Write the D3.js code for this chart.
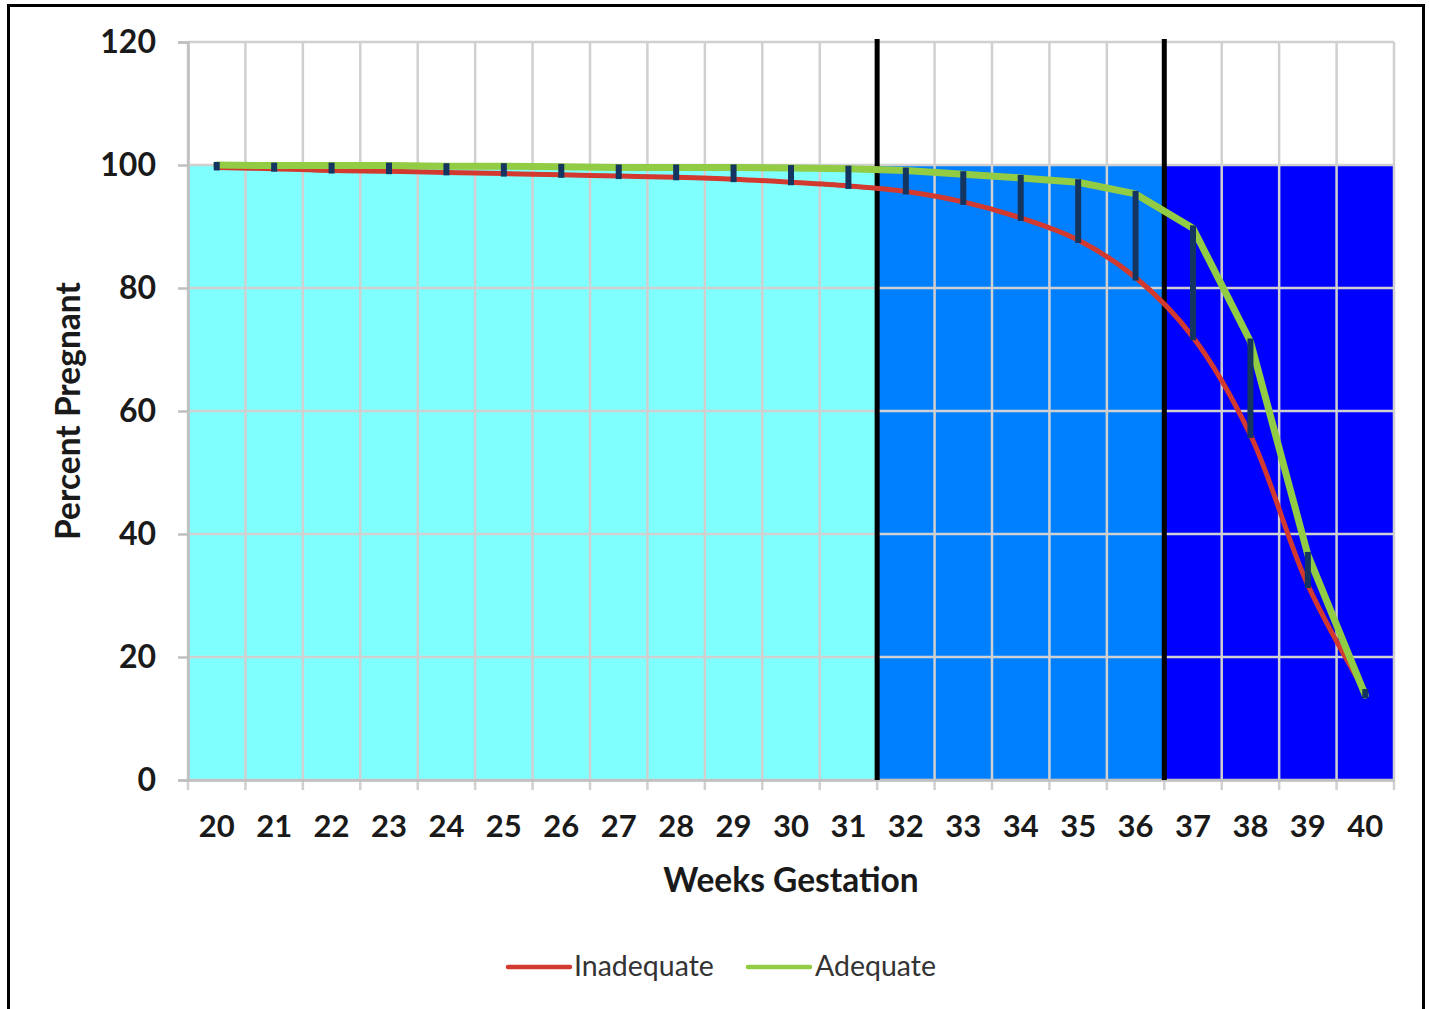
<!DOCTYPE html>
<html>
<head>
<meta charset="utf-8">
<script src="https://cdn.jsdelivr.net/npm/d3@7"></script>
<style>
  html, body { margin: 0; padding: 0; background: #ffffff; }
  svg { display: block; }
  text { font-family: Lato, "Open Sans", sans-serif; }
</style>
</head>
<body>
<svg id="chart" width="1429" height="1009"></svg>
<script>
// Gestational week categories
const weeks = [20, 21, 22, 23, 24, 25, 26, 27, 28, 29, 30, 31, 32, 33, 34, 35, 36, 37, 38, 39, 40];

// Percent still pregnant at each week, by prenatal care adequacy
const inadequate = [99.6, 99.4, 99.1, 99.0, 98.8, 98.6, 98.4, 98.2, 98.0, 97.7, 97.2, 96.6, 95.7, 94.0, 91.4, 87.8, 81.7, 72.0, 56.1, 31.7, 14.3];
const adequate   = [100.0, 99.9, 99.9, 99.9, 99.8, 99.8, 99.7, 99.6, 99.6, 99.6, 99.5, 99.4, 99.1, 98.5, 97.9, 97.2, 95.3, 89.7, 71.3, 36.6, 13.8];

// Background stages: last week of each stage, and stage column height
const stageLastWeek = [31, 36, 40];
const stageHeight = 100;

// Axis ticks
const yTicks = [0, 20, 40, 60, 80, 100, 120];

const seriesNames = ["Inadequate", "Adequate"];

// ---- styling ----
const stageColors = ["#80FFFF", "#0080FF", "#0000FF"];
const lineColors = { Inadequate: "#D2392F", Adequate: "#92CC44" };

const svg = d3.select("#chart");

const x = d3.scaleBand().domain(weeks).range([188, 1394]).paddingInner(0).paddingOuter(0);
const y = d3.scaleLinear().domain([0, 120]).range([780, 42]);
const cx = w => x(w) + x.bandwidth() / 2;

// Outer frame
svg.append("path")
  .attr("d", "M8.5,1012 L8.5,5.5 L1423.5,5.5 L1423.5,1012")
  .attr("fill", "none")
  .attr("stroke", "#000")
  .attr("stroke-width", 3);

// Stage background columns
const stageIndex = w => stageLastWeek.findIndex(last => w <= last);
svg.append("g")
  .selectAll("rect")
  .data(weeks)
  .join("rect")
  .attr("x", d => x(d) - 0.5)
  .attr("width", x.bandwidth() + 1)
  .attr("y", y(stageHeight))
  .attr("height", y(0) - y(stageHeight))
  .attr("fill", d => stageColors[stageIndex(d)]);

// Gridlines
const grid = svg.append("g").attr("class", "grid");
const edges = weeks.map(w => x(w)).concat([x.range()[1]]);
grid.selectAll("line.v")
  .data(edges)
  .join("line")
  .attr("class", "v")
  .attr("x1", d => d).attr("x2", d => d)
  .attr("y1", y(120)).attr("y2", y(0) + 10)
  .attr("stroke", "#D0D0D0")
  .attr("stroke-width", 2.5);
grid.selectAll("line.h")
  .data(yTicks)
  .join("line")
  .attr("class", "h")
  .attr("x1", x.range()[0]).attr("x2", x.range()[1])
  .attr("y1", d => y(d)).attr("y2", d => y(d))
  .attr("stroke", "#D0D0D0")
  .attr("stroke-width", 2.5);

// Y axis
const yAxis = svg.append("g")
  .attr("transform", `translate(${x.range()[0]},0)`)
  .call(d3.axisLeft(y).tickValues(yTicks).tickSize(10).tickPadding(22));
yAxis.select(".domain").attr("stroke", "#BFBFBF").attr("stroke-width", 2.5);
yAxis.selectAll(".tick line").attr("stroke", "#BFBFBF").attr("stroke-width", 2.5);
yAxis.selectAll(".tick text")
  .attr("fill", "#1a1a1a")
  .attr("font-family", "Lato, sans-serif")
  .attr("font-weight", 700)
  .attr("font-size", 32);

// X axis (labels centred in each week, ticks on the week boundaries drawn above)
const xAxis = svg.append("g")
  .attr("transform", `translate(0,${y(0)})`)
  .call(d3.axisBottom(x).tickSize(0).tickPadding(35));
xAxis.select(".domain").attr("stroke", "#BFBFBF").attr("stroke-width", 2.5);
xAxis.selectAll(".tick text")
  .attr("fill", "#1a1a1a")
  .attr("font-family", "Lato, sans-serif")
  .attr("font-weight", 700)
  .attr("font-size", 31);

// Axis titles
svg.append("text")
  .attr("x", (x.range()[0] + x.range()[1]) / 2)
  .attr("y", 892)
  .attr("text-anchor", "middle")
  .attr("font-weight", 700)
  .attr("font-size", 33.5)
  .attr("fill", "#1a1a1a")
  .text("Weeks Gestation");

svg.append("text")
  .attr("transform", "translate(80,411) rotate(-90)")
  .attr("text-anchor", "middle")
  .attr("font-weight", 700)
  .attr("font-size", 33.5)
  .attr("fill", "#1a1a1a")
  .text("Percent Pregnant");

// Stage boundary markers
const boundaries = stageLastWeek.slice(0, -1).map(w => x(w) + x.bandwidth());
svg.append("g")
  .selectAll("line")
  .data(boundaries)
  .join("line")
  .attr("x1", d => d).attr("x2", d => d)
  .attr("y1", y(120) - 3).attr("y2", y(0))
  .attr("stroke", "#000")
  .attr("stroke-width", 5);

// Series lines
const series = [
  { name: "Inadequate", values: inadequate, curve: d3.curveCatmullRom.alpha(0.5), width: 5 },
  { name: "Adequate", values: adequate, curve: d3.curveLinear, width: 7 }
];
series.forEach(s => {
  const line = d3.line()
    .x((d, i) => cx(weeks[i]))
    .y(d => y(d))
    .curve(s.curve);
  svg.append("path")
    .datum(s.values)
    .attr("d", line)
    .attr("fill", "none")
    .attr("stroke", lineColors[s.name])
    .attr("stroke-width", s.width)
    .attr("stroke-linejoin", "round")
    .attr("stroke-linecap", "round");
});

// High-low bars between the two series
svg.append("g")
  .selectAll("line")
  .data(weeks)
  .join("line")
  .attr("x1", d => cx(d)).attr("x2", d => cx(d))
  .attr("y1", (d, i) => y(Math.max(adequate[i], inadequate[i])))
  .attr("y2", (d, i) => y(Math.min(adequate[i], inadequate[i])))
  .attr("stroke", "#133560")
  .attr("stroke-width", 6)
  .attr("stroke-linecap", "square");

// Legend
const legendItems = [
  { name: seriesNames[0], lx: 508, tx: 574 },
  { name: seriesNames[1], lx: 748, tx: 815 }
];
const legend = svg.append("g");
legendItems.forEach(it => {
  legend.append("line")
    .attr("x1", it.lx).attr("x2", it.lx + 62)
    .attr("y1", 967).attr("y2", 967)
    .attr("stroke", lineColors[it.name])
    .attr("stroke-width", 4.5)
    .attr("stroke-linecap", "round");
  legend.append("text")
    .attr("x", it.tx)
    .attr("y", 976)
    .attr("font-size", 28.5)
    .attr("fill", "#333333")
    .text(it.name);
});
</script>
</body>
</html>
